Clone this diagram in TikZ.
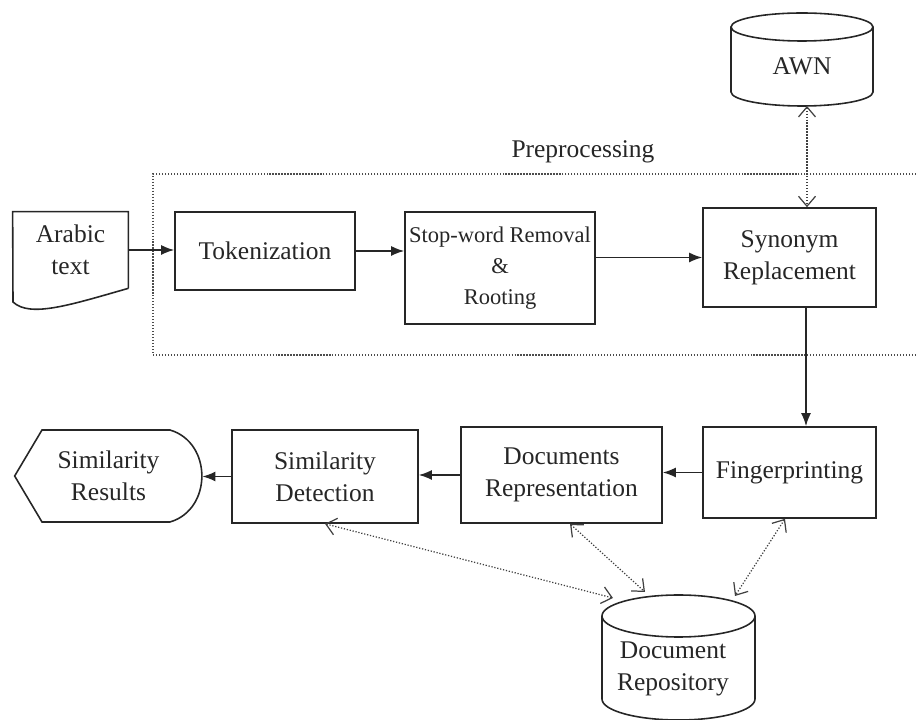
\documentclass[tikz,border=0pt]{standalone}
\usepackage{fontspec}
\setmainfont{Liberation Serif}
\usetikzlibrary{arrows.meta,positioning,calc}

\begin{document}
\begin{tikzpicture}[
  font=\fontsize{14.5}{18}\selectfont,
  line/.style={line width=0.9pt,black!85},
  box/.style={line,draw,align=center,text=black!85},
  shapetext/.style={align=center,text=black!85},
  flow/.style={line,-{Latex[length=2.6mm,width=2mm]}},
  link/.style={densely dotted,line width=0.7pt,black!75,{Straight Barb[length=2mm,width=3.4mm]}-{Straight Barb[length=2mm,width=3.4mm]}}
]
  \useasboundingbox (0,0) rectangle (18.32,14.4);
  % Preprocessing frame
  \draw[densely dotted,line width=0.7pt,black!70] (18.32,10.92) -- (3.06,10.92) -- (3.06,7.30) -- (18.32,7.30);
  \node[shapetext] (prep) at (11.66,11.36) {Preprocessing};
  % Input document
  \node[shapetext,minimum width=2.3cm,minimum height=1.52cm] (arabic) at (1.41,9.40) {Arabic\\text};
  \draw[line] (arabic.south east) -- (arabic.north east) -- (arabic.north west) -- (0.26,8.36)
    .. controls (0.6,8.04) and (1.4,8.3) .. (arabic.south east);
  % Pipeline boxes
  \node[box,minimum width=3.6cm,minimum height=1.56cm] (tok) at (5.30,9.38) {Tokenization};
  \node[box,minimum width=3.8cm,minimum height=2.24cm,inner sep=1pt,font=\fontsize{12.8}{17.5}\selectfont] (stop) at (10.00,9.04) {Stop-word Removal\\\&\\Rooting};
  \node[box,minimum width=3.46cm,minimum height=1.98cm] (syn) at (15.79,9.25) {Synonym\\Replacement};
  \node[box,minimum width=3.46cm,minimum height=1.82cm] (fing) at (15.79,4.95) {Fingerprinting};
  \node[box,minimum width=4.02cm,minimum height=1.92cm] (docrep) at (11.23,4.90) {Documents\\Representation};
  \node[box,minimum width=3.72cm,minimum height=1.86cm] (simdet) at (6.50,4.87) {Similarity\\Detection};
  % Output display
  \node[shapetext,minimum width=3.74cm,minimum height=1.84cm] (simres) at (2.17,4.88) {Similarity\\Results};
  \draw[line] (simres.west) -- (0.84,5.80) -- (3.40,5.80)
    .. controls (4.25,5.55) and (4.25,4.21) .. (3.40,3.96) -- (0.84,3.96) -- cycle;
  % AWN database
  \node[shapetext] (awn) at (16.04,13.08) {AWN};
  \draw[line] (16.04,13.86) ellipse [x radius=1.42, y radius=0.28];
  \draw[line] (14.62,13.86) -- (14.62,12.56) arc[start angle=180,end angle=360,x radius=1.42,y radius=0.28] -- (17.46,13.86);
  \coordinate (awnbot) at (16.14,12.28);
  % Repository database
  \node[shapetext] (repo) at (13.46,1.02) {Document\\Repository};
  \draw[line] (13.57,2.08) ellipse [x radius=1.53, y radius=0.42];
  \draw[line] (12.04,2.08) -- (12.04,0.42) arc[start angle=180,end angle=360,x radius=1.53,y radius=0.42] -- (15.10,2.08);
  \coordinate (repoA) at (12.26,2.44);
  \coordinate (repoB) at (12.90,2.56);
  \coordinate (repoC) at (14.70,2.48);
  % Main flow
  \draw[flow] (arabic.east) -- (arabic.east -| tok.west);
  \draw[flow] (tok.east) -- (tok.east -| stop.west);
  \draw[flow] (stop.east |- syn.west) -- (syn.west);
  \draw[flow] ([xshift=0.33cm]syn.south) -- ([xshift=0.33cm]syn.south |- fing.north);
  \draw[flow] (fing.west) -- (fing.west -| docrep.east);
  \draw[flow] (docrep.west) -- (docrep.west -| simdet.east);
  \draw[flow] (simdet.west) -- (simdet.west -| simres.east);
  % Database links
  \draw[link] (awnbot) -- (awnbot |- syn.north);
  \draw[link] (simdet.south) -- (repoA);
  \draw[link] ([xshift=0.17cm]docrep.south) -- (repoB);
  \draw[link] ([xshift=-0.09cm]fing.south) -- (repoC);
\end{tikzpicture}
\end{document}
